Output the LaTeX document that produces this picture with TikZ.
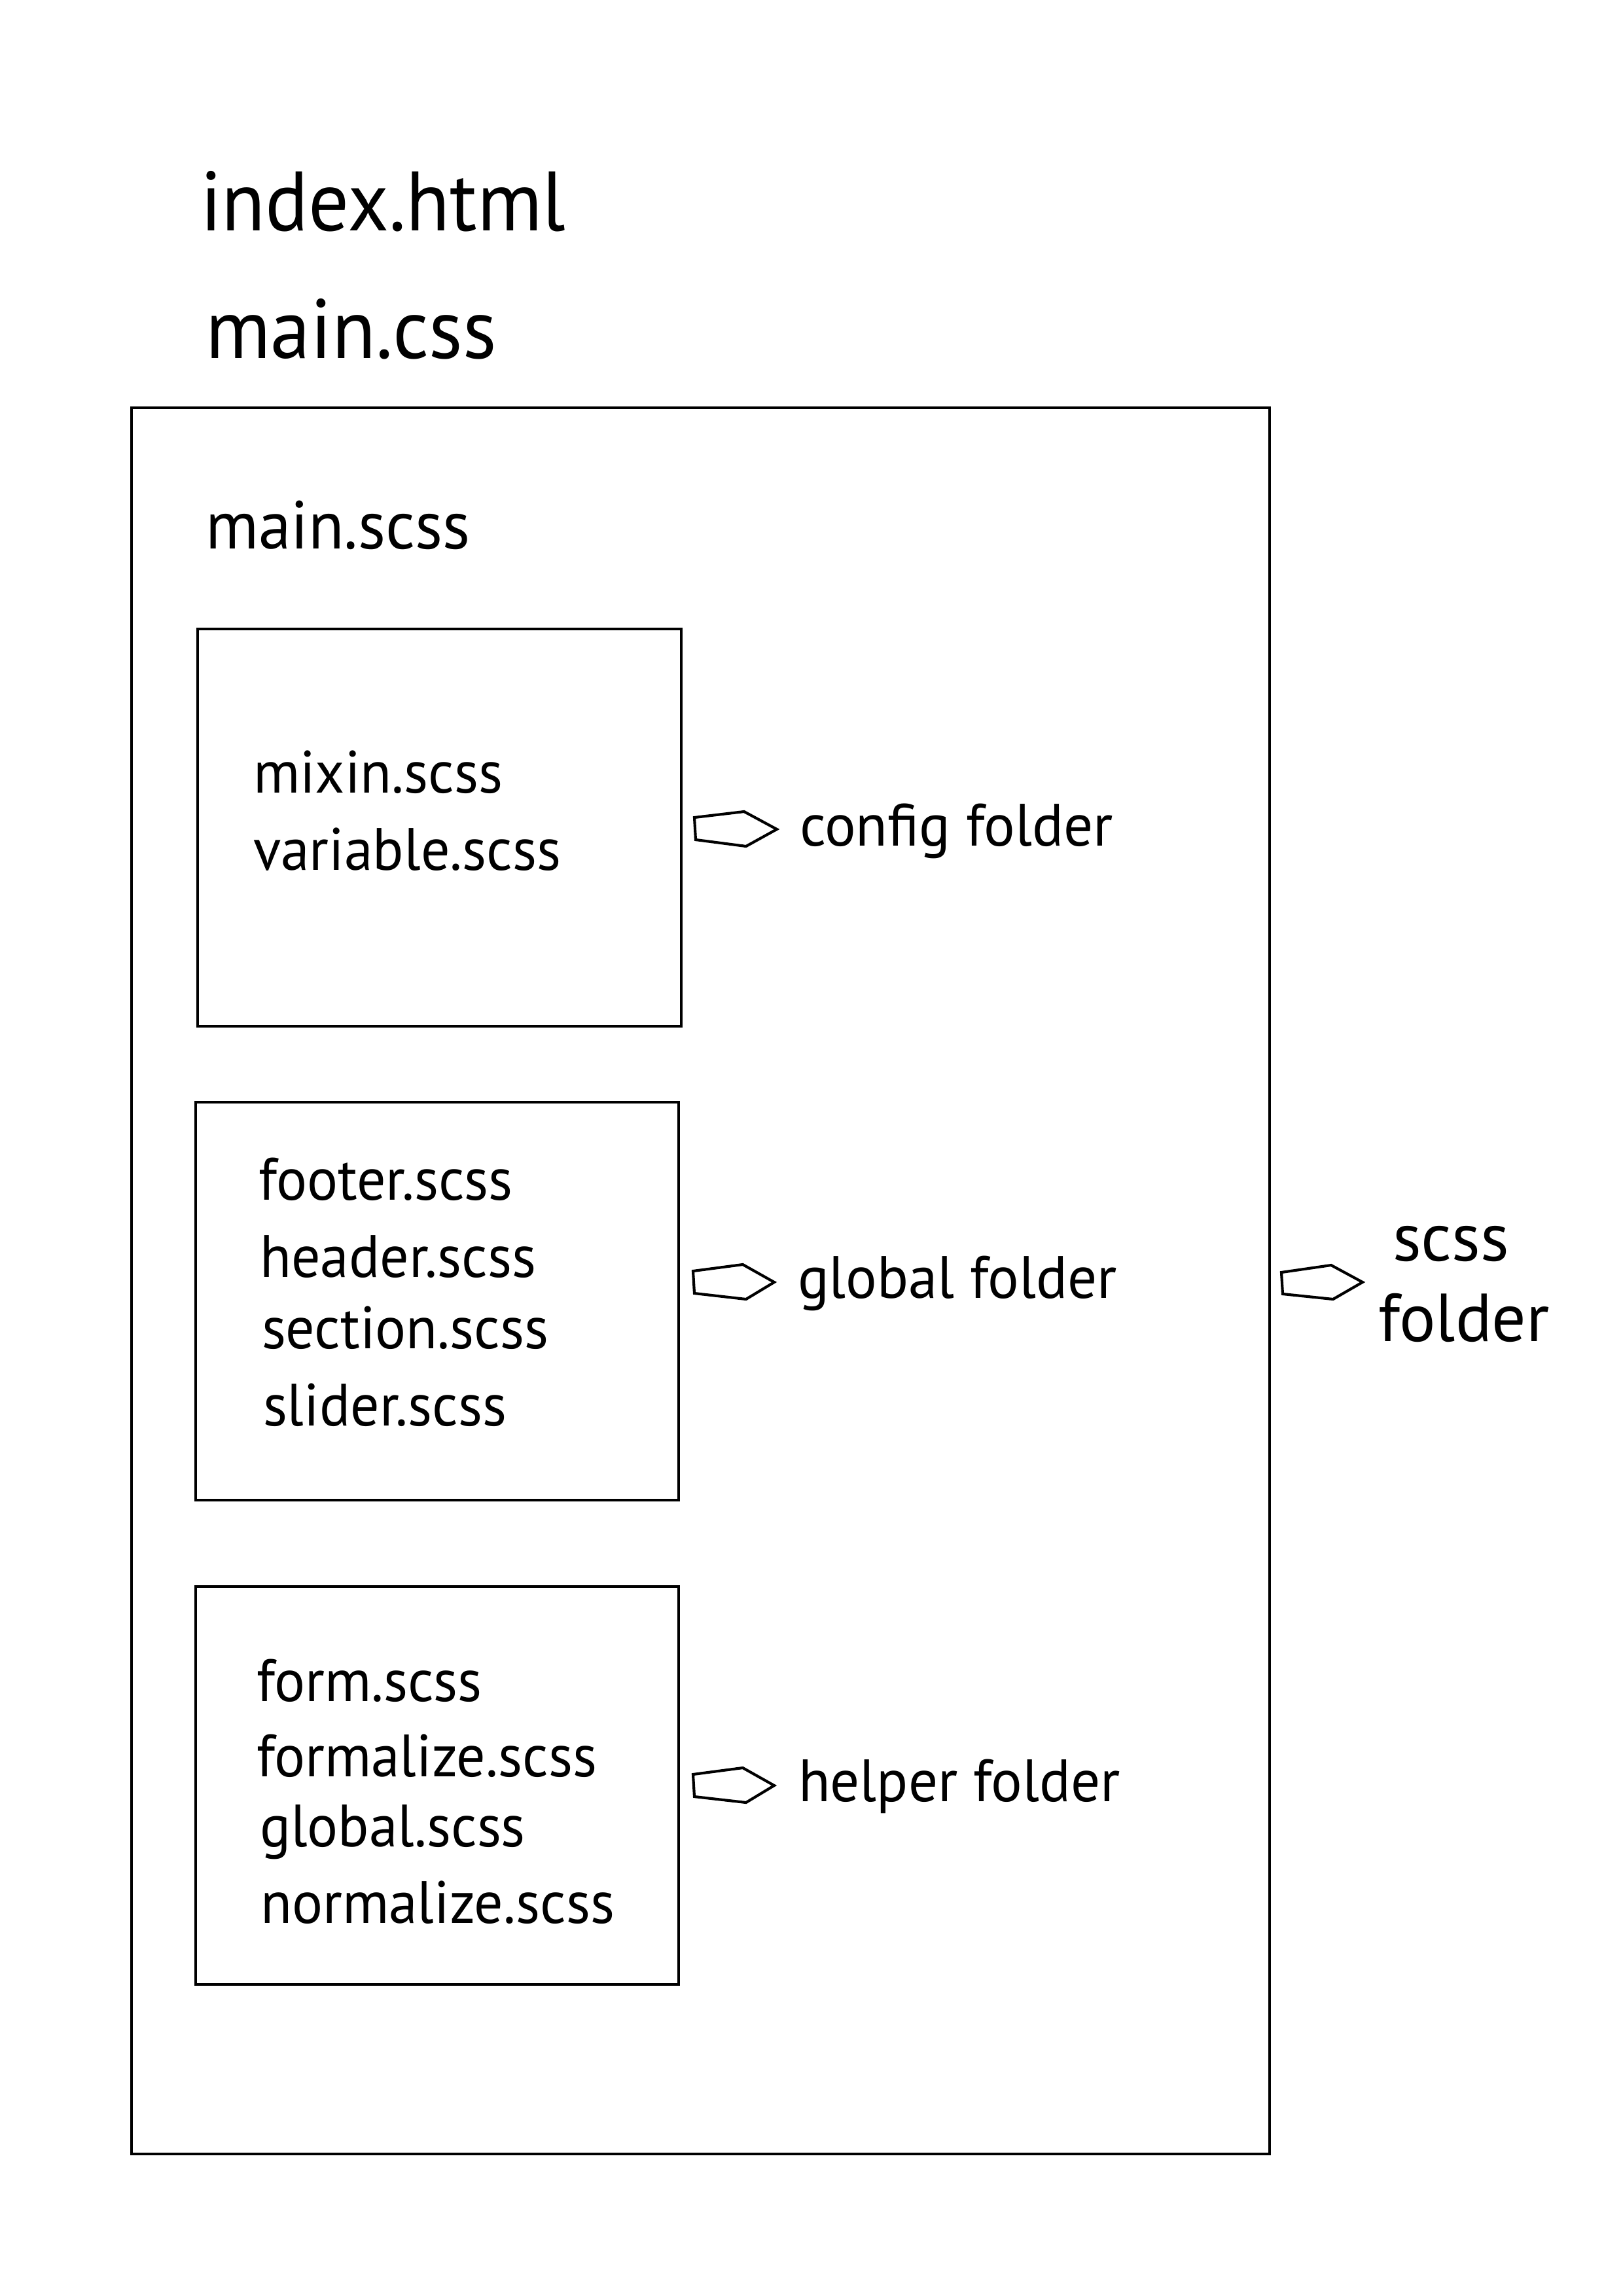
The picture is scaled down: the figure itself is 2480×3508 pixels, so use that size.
\documentclass[tikz,border=0pt]{standalone}
\usepackage{fontspec}
\setmainfont{PT Sans}
\newfontfamily\narrowfont[FakeStretch=0.962]{PT Sans}
\newfontfamily\bignarrowfont[FakeStretch=0.952]{PT Sans}
\newfontfamily\labelfont[FakeStretch=0.975]{PT Sans}
\begin{document}
\begin{tikzpicture}[x=0.2409pt,y=-0.2409pt,
  box/.style={draw,line width=1.15pt},
  tag/.style={draw,line width=1pt,line join=miter},
  lbl/.style={anchor=base west,inner sep=0pt,outer sep=0pt},
  fbig/.style={font=\bignarrowfont\fontsize{31}{37}\selectfont},
  fmid/.style={font=\narrowfont\fontsize{25}{30}\selectfont},
  fscss/.style={font=\fontsize{25}{30}\selectfont},
  fbox/.style={font=\narrowfont\fontsize{22}{26}\selectfont},
  ffold/.style={font=\labelfont\fontsize{22}{26}\selectfont}]
\useasboundingbox (0,0) rectangle (2480,3508);
% outer scss box
\draw[box] (201,623) rectangle (1940,3291);
% inner folder boxes
\draw[box] (302,961) rectangle (1041,1568);
\draw[box] (299,1684) rectangle (1037,2292);
\draw[box] (299,2424) rectangle (1037,3032);
% pointer tags
\draw[tag] (1061,1249) -- (1137,1240) -- (1187,1267) -- (1140,1293) -- (1063,1283) -- cycle;
\draw[tag] (1059,1942) -- (1135,1932) -- (1183,1959) -- (1140,1985) -- (1061,1976) -- cycle;
\draw[tag] (1059,2711) -- (1135,2701) -- (1183,2728) -- (1140,2754) -- (1061,2745) -- cycle;
\draw[tag] (1958,1944) -- (2034,1933) -- (2082,1959) -- (2037,1985) -- (1960,1977) -- cycle;
% texts
\node[lbl,fbig] (index) at (306,352) {index.html};
\node[lbl,fbig] (css) at (314,547) {main.css};
\node[lbl,fmid] (mscss) at (314,838) {main.scss};
\node[lbl,fbox] (mixin) at (387,1211) {mixin.scss};
\node[lbl,fbox] (variable) at (387,1329) {variable.scss};
\node[lbl,fbox] (footer) at (395,1833) {footer.scss};
\node[lbl,fbox] (header) at (397,1951) {header.scss};
\node[lbl,fbox] (section) at (400,2060) {section.scss};
\node[lbl,fbox] (slider) at (402,2178) {slider.scss};
\node[lbl,fbox] (form) at (392,2599) {form.scss};
\node[lbl,fbox] (formalize) at (392,2714) {formalize.scss};
\node[lbl,fbox] (globalscss) at (397,2821) {global.scss};
\node[lbl,fbox] (normalize) at (398,2938) {normalize.scss};
\node[lbl,ffold] (config) at (1222,1292) {config folder};
\node[lbl,ffold] (globalf) at (1219,1983) {global folder};
\node[lbl,ffold] (helper) at (1220,2752) {helper folder};
\node[lbl,fscss] (scss) at (2128,1926) {scss};
\node[lbl,fscss] (folder) at (2106,2049) {folder};
\end{tikzpicture}
\end{document}
